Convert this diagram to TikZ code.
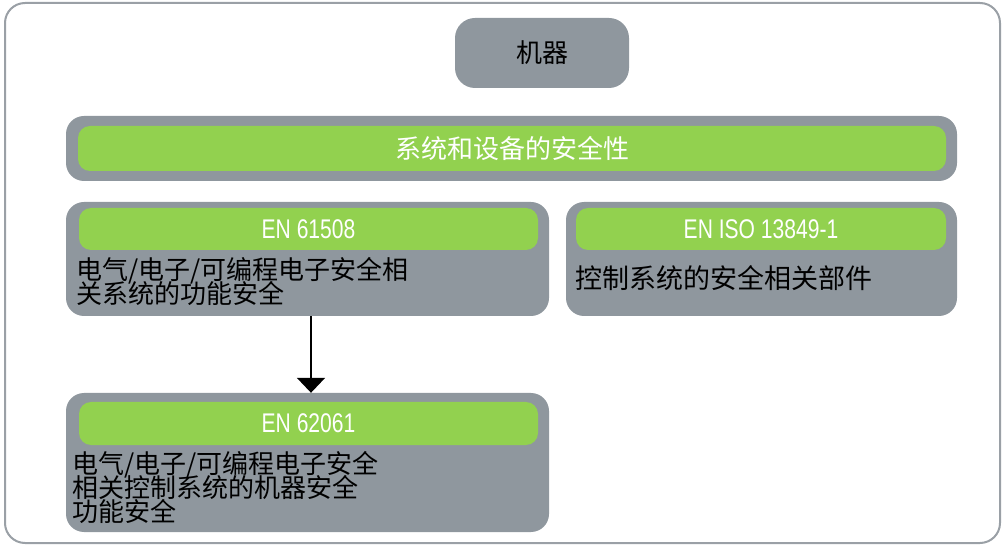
\documentclass[tikz,border=0pt]{standalone}
\usepackage{fontspec}
\usetikzlibrary{arrows.meta}
\newfontfamily\cjk{Noto Sans CJK SC}
\newfontfamily\narrow[FakeStretch=0.78]{Liberation Sans}
\newcommand\tightlines{\setlength{\lineskiplimit}{-100pt}\setlength{\lineskip}{0pt}}
\definecolor{boxgray}{HTML}{8F979E}
\definecolor{framegray}{HTML}{9AA0A6}
\definecolor{lgreen}{HTML}{92D14F}
\tikzset{
  graybox/.style={fill=boxgray, draw=none, rounded corners=18pt, inner sep=0pt},
  greenbar/.style={fill=lgreen, draw=none, rounded corners=12pt, inner sep=0pt, text=white},
  stdlabel/.style={font=\narrow\fontsize{27}{30}\selectfont},
  cntext/.style={font={\cjk\fontsize{26}{24}\selectfont\tightlines},
     align=left, inner sep=0pt, anchor=base west},
  link/.style={line width=2pt, -{Triangle[width=28pt,length=15pt]}}
}
\begin{document}
\begin{tikzpicture}[x=1pt,y=-1pt]
\useasboundingbox (0,0) rectangle (1002,545);
\draw[framegray, line width=2pt, rounded corners=20pt] (5,3) rectangle (1000,543);
% machine
\node[graybox, rounded corners=20pt, minimum width=174pt, minimum height=70pt,
      font=\cjk\fontsize{26}{26}\selectfont] (machine) at (542,53) {机器};
% system safety
\node[graybox, minimum width=891pt, minimum height=65pt] (sysbox) at (511.5,148.5) {};
\node[greenbar, minimum width=868pt, minimum height=45pt,
      font=\cjk\fontsize{26}{26}\selectfont] (systitle) at (512,148.5) {系统和设备的安全性};
% EN 61508
\node[graybox, minimum width=483pt, minimum height=114pt] (b61508) at (307.5,259) {};
\node[greenbar, stdlabel, minimum width=459pt, minimum height=42pt] (g61508) at (308.5,229) {EN 61508};
\node[cntext] (t61508) at (76,304) {电气/电子/可编程电子安全相\\关系统的功能安全};
% EN ISO 13849-1
\node[graybox, minimum width=391pt, minimum height=114pt] (biso) at (761.5,259) {};
\node[greenbar, stdlabel, minimum width=370pt, minimum height=42pt] (giso) at (761,229) {EN ISO 13849-1};
\node[cntext, font=\cjk\fontsize{27}{27}\selectfont] (tiso) at (575,289) {控制系统的安全相关部件};
% EN 62061
\node[graybox, minimum width=483pt, minimum height=139pt] (b62061) at (307.5,462.5) {};
\node[greenbar, stdlabel, minimum width=459pt, minimum height=43pt] (g62061) at (308.5,423.5) {EN 62061};
\node[cntext] (t62061) at (72,521) {电气/电子/可编程电子安全\\相关控制系统的机器安全\\功能安全};
% arrow
\draw[link] ([xshift=3.5pt]b61508.south) -- ([xshift=3.5pt]b62061.north);
\end{tikzpicture}
\end{document}
